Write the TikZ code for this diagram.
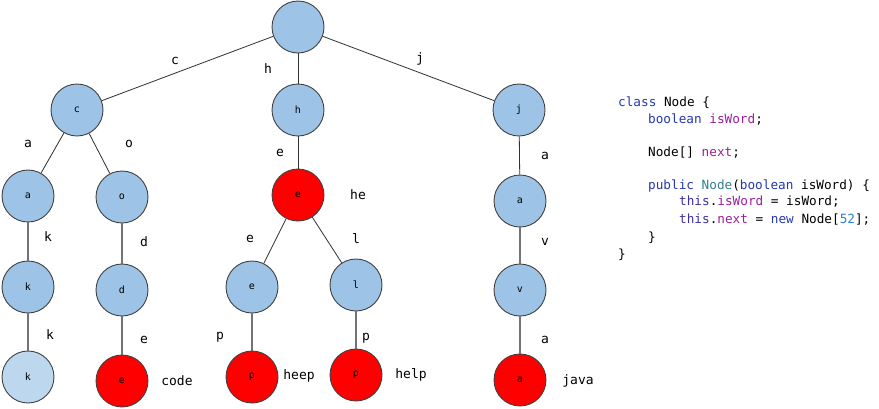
\documentclass[tikz,border=0pt]{standalone}
\usepackage{fontspec}
\setmonofont{DejaVu Sans Mono}
\definecolor{nblue}{HTML}{9DC3E6}
\definecolor{nlight}{HTML}{BDD7EE}
\definecolor{nred}{HTML}{FF0000}
\definecolor{kw}{HTML}{2438B0}
\definecolor{fld}{HTML}{9B1E9B}
\definecolor{typ}{HTML}{2F7F8F}
\definecolor{num}{HTML}{2C7FE0}
\definecolor{thisc}{HTML}{3A2FA0}
\definecolor{edgec}{HTML}{303030}
\tikzset{
  tn/.style={circle, draw=black!75, line width=0.9pt, minimum size=52pt, inner sep=0pt, fill=nblue, font=\ttfamily\fontsize{10}{10}\selectfont},
  word/.style={tn, fill=nred},
  lite/.style={tn, fill=nlight},
  edge/.style={draw=edgec, line width=0.8pt},
  vedge/.style={draw=black!55, line width=1.4pt},
  lbl/.style={font=\ttfamily\fontsize{13}{13}\selectfont, inner sep=0pt},
  code/.style={font=\ttfamily\fontsize{12.7}{12.7}\selectfont, anchor=base west, inner sep=0pt}
}
\begin{document}
\begin{tikzpicture}[x=1pt,y=-1pt]
\useasboundingbox (0,0) rectangle (879,408);
% nodes
\node[tn] (root) at (298,27) {};
\node[tn] (c) at (77,110) {c};
\node[tn] (h) at (298,110) {h};
\node[tn] (j) at (519,110) {j};
\node[tn] (ca) at (28,196) {a};
\node[tn] (co) at (122,197) {o};
\node[word] (he) at (298,195) {e};
\node[tn] (ja) at (520,201) {a};
\node[tn] (cak) at (28,287) {k};
\node[tn] (cod) at (122,290) {d};
\node[tn] (hee) at (252,287) {e};
\node[tn] (hel) at (356,285) {l};
\node[tn] (jav) at (520,290) {v};
\node[lite] (cakk) at (28,377) {k};
\node[word] (code) at (122,381) {e};
\node[word] (heep) at (252,377) {p};
\node[word] (help) at (356,375) {p};
\node[word] (java) at (520,380) {a};
% edges
\draw[edge] (root) -- (c);
\draw[edge] (root) -- (h);
\draw[edge] (root) -- (j);
\draw[edge] (c) -- (ca);
\draw[edge] (c) -- (co);
\draw[edge] (h) -- (he);
\draw[edge] (j) -- (ja);
\draw[vedge] (ca) -- (cak);
\draw[vedge] (cak) -- (cakk);
\draw[vedge] (co) -- (cod);
\draw[vedge] (cod) -- (code);
\draw[edge] (he) -- (hee);
\draw[edge] (he) -- (hel);
\draw[vedge] (hee) -- (heep);
\draw[vedge] (hel) -- (help);
\draw[vedge] (ja) -- (jav);
\draw[vedge] (jav) -- (java);
% edge labels
\node[lbl] (l1) at (175,61) {c};
\node[lbl] (l2) at (268,69) {h};
\node[lbl] (l3) at (420,59) {j};
\node[lbl] (l4) at (28,144) {a};
\node[lbl] (l5) at (129,144) {o};
\node[lbl] (l6) at (280,153) {e};
\node[lbl] (l7) at (48,237) {k};
\node[lbl] (l8) at (50,335) {k};
\node[lbl] (l9) at (144,242) {d};
\node[lbl] (l10) at (144,340) {e};
\node[lbl] (l11) at (250,239) {e};
\node[lbl] (l12) at (356,239) {l};
\node[lbl] (l13) at (220,337) {p};
\node[lbl] (l14) at (366,338) {p};
\node[lbl] (l15) at (545,156) {a};
\node[lbl] (l16) at (545,242) {v};
\node[lbl] (l17) at (545,340) {a};
% word labels
\node[lbl] (w1) at (358,195) {he};
\node[lbl] (w2) at (177,381) {code};
\node[lbl] (w3) at (299,376) {heep};
\node[lbl] (w4) at (411,375) {help};
\node[lbl] (w5) at (578,381) {java};
% code
\node[code] (c1) at (618,106) {\textcolor{kw}{class} Node \{};
\node[code] (c2) at (648,123) {\textcolor{kw}{boolean} \textcolor{fld}{isWord};};
\node[code] (c3) at (648,156) {Node[] \textcolor{fld}{next};};
\node[code] (c4) at (648,189) {\textcolor{kw}{public} \textcolor{typ}{Node}(\textcolor{kw}{boolean} isWord) \{};
\node[code] (c5) at (679,205.5) {\textcolor{thisc}{this}.\textcolor{fld}{isWord} = isWord;};
\node[code] (c6) at (679,223) {\textcolor{thisc}{this}.\textcolor{fld}{next} = \textcolor{kw}{new} Node[\textcolor{num}{52}];};
\node[code] (c7) at (648,241) {\}};
\node[code] (c8) at (618,258) {\}};
\end{tikzpicture}
\end{document}
